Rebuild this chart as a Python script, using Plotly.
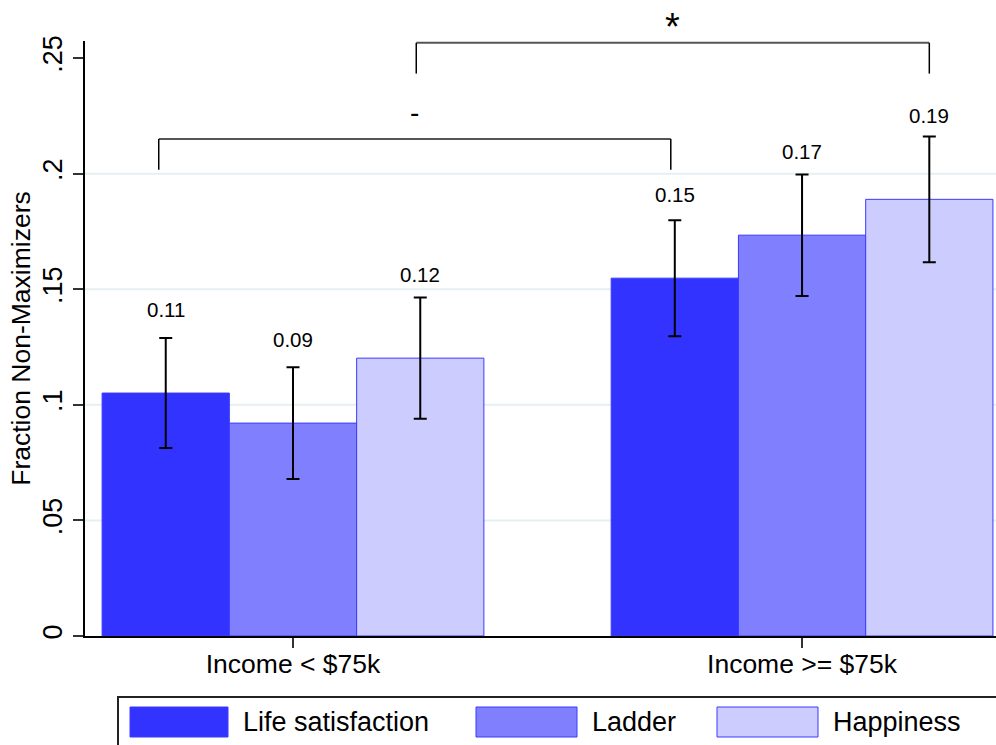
import plotly.graph_objects as go

# Income groups and outcome measures
groups = ["Income < $75k", "Income >= $75k"]
measures = ["Life satisfaction", "Ladder", "Happiness"]

# Fraction of non-maximizers per measure (one value per income group)
life_vals = [0.1051, 0.1548]
ladder_vals = [0.0921, 0.1734]
happy_vals = [0.1202, 0.1889]

# Half-width of the confidence intervals
life_err = [0.0238, 0.0251]
ladder_err = [0.0242, 0.0263]
happy_err = [0.0262, 0.0272]

y_ticks = [0, 0.05, 0.10, 0.15, 0.20, 0.25]
y_ticktext = ["0", ".05", ".1", ".15", ".2", ".25"]
grid_vals = [0.05, 0.10, 0.15, 0.20]

# Between-group comparisons: (measure index, significance mark, bracket level)
comparisons = [(0, "-", 0.2150), (2, "*", 0.2566)]
bracket_drop = 0.0133
# small horizontal nudges (px) of the bracket ends
bracket_nudge = {0: (-7, -4), 2: (-4, 0)}

fills = ["#3333ff", "#8080ff", "#ccccff"]
edge = "#3a3aff"
FONT = "Liberation Sans, Arial, Helvetica, sans-serif"

values = [life_vals, ladder_vals, happy_vals]
errors = [life_err, ladder_err, happy_err]

x_pos = list(range(len(groups)))
bar_w = 0.25
offsets = [-bar_w, 0.0, bar_w]

W, H = 996, 745
L, R, T, B = 85, 0, 41, 109
pw, ph = W - L - R, H - T - B
x_range = [-0.4086, 1.381]
px_per_x = pw / (x_range[1] - x_range[0])

fig = go.Figure()
for name, vals, errs, col in zip(measures, values, errors, fills):
    fig.add_trace(go.Bar(
        name=name, x=x_pos, y=vals,
        marker=dict(color=col, line=dict(color=edge, width=1)),
        error_y=dict(type="data", array=errs, visible=True,
                     color="black", thickness=2, width=6.5),
        showlegend=False,
    ))

# Value labels above each bar
annotations = []
for off, vals in zip(offsets, values):
    for xi, v in zip(x_pos, vals):
        annotations.append(dict(
            x=xi + off, y=v, xref="x", yref="y", text=f"{v:.2f}",
            showarrow=False, yshift=84, yanchor="middle",
            font=dict(family=FONT, size=20.5, color="black")))

shapes = []
# Light horizontal grid
for g in grid_vals:
    shapes.append(dict(type="line", xref="paper", yref="y", x0=0, x1=1,
                       y0=g, y1=g, layer="below",
                       line=dict(color="#e6eff1", width=2)))

# Comparison brackets between the two income groups
for idx, mark, level in comparisons:
    na, nb = bracket_nudge.get(idx, (0, 0))
    xa = x_pos[0] + offsets[idx] + na / px_per_x
    xb = x_pos[1] + offsets[idx] + nb / px_per_x
    lo = level - bracket_drop
    shapes.append(dict(type="line", xref="x", yref="y",
                       x0=xa, x1=xb, y0=level, y1=level,
                       line=dict(color="#555555", width=2)))
    for xe in (xa, xb):
        shapes.append(dict(type="line", xref="x", yref="y",
                           x0=xe, x1=xe, y0=lo, y1=level,
                           line=dict(color="black", width=1.5)))
    annotations.append(dict(
        x=(xa + xb) / 2, y=level, xref="x", yref="y", text=mark,
        showarrow=False, yanchor="middle",
        yshift=16 if mark == "*" else 27,
        font=dict(family=FONT, size=38 if mark == "*" else 28,
                  color="black")))


# Legend drawn as a boxed row of swatches
def px(x):
    return (x - L) / pw


def py(y):
    return (H - B - y) / ph


shapes.append(dict(type="rect", xref="paper", yref="paper",
                   x0=px(118), x1=px(1000), y0=py(760), y1=py(697),
                   line=dict(color="#222222", width=2), fillcolor="white"))
swatch_x = [(130, 228), (476, 577), (717, 818)]
text_x = [243, 592, 833]
for (sx0, sx1), tx, name, col in zip(swatch_x, text_x, measures, fills):
    shapes.append(dict(type="rect", xref="paper", yref="paper",
                       x0=px(sx0), x1=px(sx1), y0=py(737), y1=py(707),
                       line=dict(color=edge, width=1), fillcolor=col))
    annotations.append(dict(
        x=px(tx - 2), y=py(722), xref="paper", yref="paper", text=name,
        showarrow=False, xanchor="left", yanchor="middle",
        font=dict(family=FONT, size=27, color="black")))

fig.update_layout(
    width=W, height=H,
    margin=dict(l=L, r=R, t=T, b=B, pad=0),
    plot_bgcolor="white", paper_bgcolor="white",
    barmode="group", bargap=0.25, bargroupgap=0,
    font=dict(family=FONT, color="black"),
    shapes=shapes, annotations=annotations,
    xaxis=dict(
        range=x_range, tickvals=x_pos, ticktext=groups,
        showgrid=False, zeroline=False, showline=True,
        linecolor="black", linewidth=1.5,
        ticks="outside", ticklen=10, tickwidth=1.5, tickcolor="#333333",
        ticklabelstandoff=-7,
        tickfont=dict(family=FONT, size=26.5, color="black"),
    ),
    yaxis=dict(
        range=[0, 0.2574], tickvals=y_ticks, ticktext=y_ticktext,
        tickangle=-90, showgrid=False, zeroline=False, showline=True,
        linecolor="black", linewidth=1.5,
        ticks="outside", ticklen=10, tickwidth=1.5, tickcolor="#333333",
        tickfont=dict(family=FONT, size=27, color="black"),
        title=dict(text="Fraction Non-Maximizers", standoff=0,
                   font=dict(family=FONT, size=26.5, color="black")),
    ),
)

fig.write_html("out.html")
